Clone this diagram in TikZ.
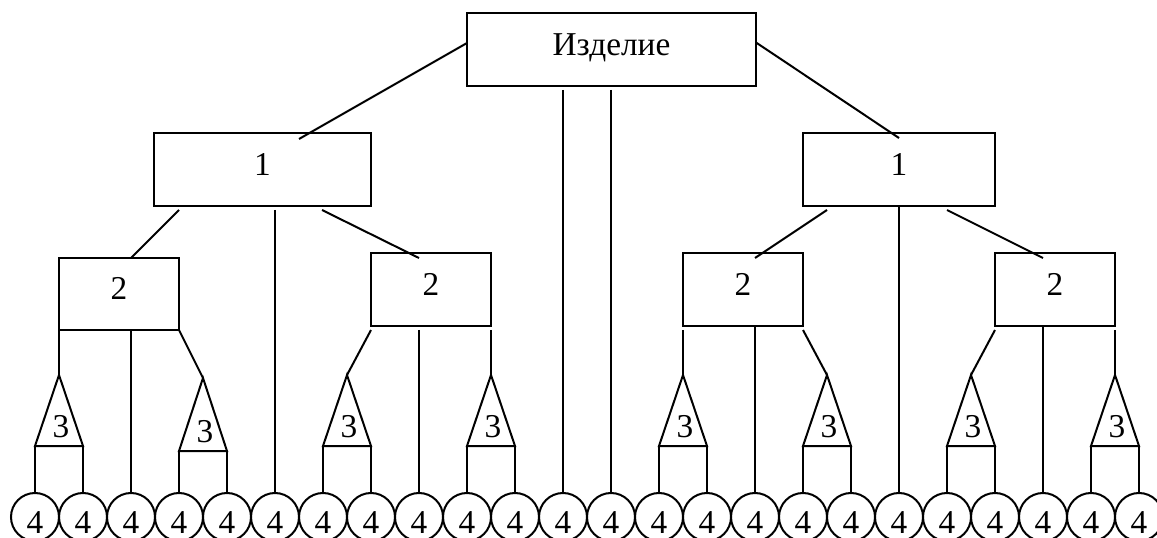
\documentclass[tikz,border=0pt]{standalone}
\usepackage{fontspec}
\setmainfont{Liberation Serif}
\usetikzlibrary{calc}
\begin{document}
\begin{tikzpicture}[x=0.75pt,y=-0.75pt,
  line width=1.5pt,
  font=\fontsize{25}{29}\selectfont,
  box/.style={draw, rectangle, inner sep=0pt, outer sep=0pt, text height=16.5pt, text depth=7.5pt, minimum height=54.75pt},
  ball/.style={draw, circle, inner sep=0pt, outer sep=0pt, minimum size=36pt, text height=24pt, text depth=0pt},
  tri/.style={draw, line join=miter},
  lbl/.style={inner sep=0pt},
  gap/.style={shorten <=3pt}]
\useasboundingbox (0,0) rectangle (1157,538);
\clip (0,0) rectangle (1157,538);

% boxes
\node[box, minimum width=216.75pt] (top) at (611.5,49.5) {Изделие};
\node[box, minimum width=162.75pt] (b1L) at (262.5,169.5) {1};
\node[box, minimum width=144pt] (b1R) at (899,169.5) {1};
\node[box, minimum width=90pt, minimum height=54pt] (b2a) at (119,294) {2};
\node[box, minimum width=90pt] (b2b) at (431,289.5) {2};
\node[box, minimum width=90pt] (b2c) at (743,289.5) {2};
\node[box, minimum width=90pt] (b2d) at (1055,289.5) {2};

% circles
\foreach \k in {0,...,23}
  \node[ball] (c\k) at ({35+48*\k},517) {4};

% triangles
\foreach \n/\ax/\ay/\by in {t1/59/375/446, t2/203/378/451, t3/347/375/446, t4/491/375/446,
                            t5/683/375/446, t6/827/375/446, t7/971/375/446, t8/1115/375/446}{
  \coordinate (\n a) at (\ax,\ay);
  \coordinate (\n l) at ({\ax-24},\by);
  \coordinate (\n r) at ({\ax+24},\by);
  \draw[tri] (\n a) -- (\n l) -- (\n r) -- cycle;
  \node[lbl] (\n x) at ({\ax+2},{\by-19}) {3};
}

% product -> level 1
\draw ($(top.west)+(0,-6.5)$) -- ($(b1L.north)+(36.5,6)$);
\draw ($(top.east)+(0,-7)$) -- ($(b1R.north)+(0,5)$);
\draw[gap] (c11.north |- top.south) -- (c11.north);
\draw[gap] (c12.north |- top.south) -- (c12.north);

% level 1 left
\draw ($(b1L.south west)+(25,4)$) -- ($(b2a.north west)+(72,0)$);
\draw[gap] (c5.north |- b1L.south) -- (c5.north);
\draw ($(b1L.south west)+(168,4)$) -- ($(b2b.north)+(-12,5)$);

% level 1 right
\draw ($(b1R.south west)+(24,4)$) -- ($(b2c.north)+(12,5)$);
\draw (c18.north |- b1R.south) -- (c18.north);
\draw ($(b1R.south west)+(144,4)$) -- ($(b2d.north)+(-12,5)$);

% level 2
\draw (b2a.south west) -- (t1a);
\draw (c2.north |- b2a.south) -- (c2.north);
\draw (b2a.south east) -- (t2a);

\draw ($(b2b.south west)+(0,4)$) -- (t3a);
\draw[gap] (c8.north |- b2b.south) -- (c8.north);
\draw ($(b2b.south east)+(0,4)$) -- (t4a);

\draw ($(b2c.south west)+(0,4)$) -- (t5a);
\draw (c15.north |- b2c.south) -- (c15.north);
\draw ($(b2c.south east)+(0,4)$) -- (t6a);

\draw ($(b2d.south west)+(0,4)$) -- (t7a);
\draw (c21.north |- b2d.south) -- (c21.north);
\draw ($(b2d.south east)+(0,4)$) -- (t8a);

% triangles -> circles
\draw (t1l) -- (c0.north);  \draw (t1r) -- (c1.north);
\draw (t2l) -- (c3.north);  \draw (t2r) -- (c4.north);
\draw (t3l) -- (c6.north);  \draw (t3r) -- (c7.north);
\draw (t4l) -- (c9.north);  \draw (t4r) -- (c10.north);
\draw (t5l) -- (c13.north); \draw (t5r) -- (c14.north);
\draw (t6l) -- (c16.north); \draw (t6r) -- (c17.north);
\draw (t7l) -- (c19.north); \draw (t7r) -- (c20.north);
\draw (t8l) -- (c22.north); \draw (t8r) -- (c23.north);
\end{tikzpicture}
\end{document}
